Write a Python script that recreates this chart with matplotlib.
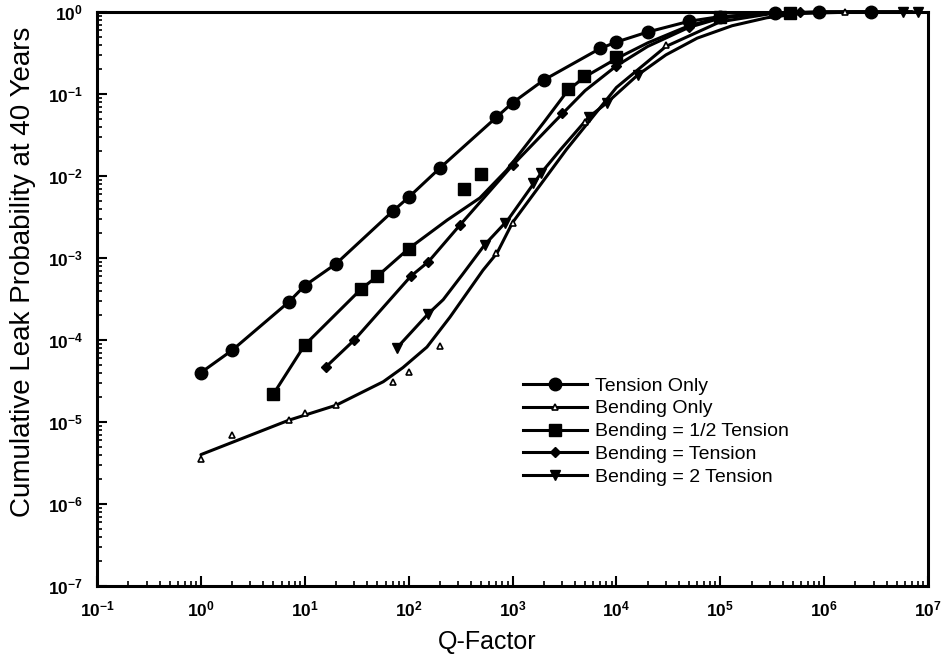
import matplotlib
matplotlib.use('Agg')
import matplotlib.pyplot as plt
from matplotlib.lines import Line2D
from matplotlib.ticker import LogLocator, NullFormatter

plt.rcParams['font.family'] = 'Liberation Sans'
plt.rcParams['mathtext.fontset'] = 'custom'
plt.rcParams['mathtext.rm'] = 'Liberation Sans'
plt.rcParams['mathtext.bf'] = 'Liberation Sans:bold'

# --- Tension Only (filled circles) ---
tension_x = [1, 2, 7, 10, 20, 70, 100, 200, 700, 1000, 2000, 7000, 1e4, 2e4, 5e4, 1e5, 3.4e5, 9e5, 2.8e6]
tension_y = [4e-5, 7.5e-5, 2.9e-4, 4.6e-4, 8.5e-4, 3.7e-3, 5.5e-3, 1.25e-2, 5.2e-2, 7.8e-2, 0.148,
             0.36, 0.43, 0.57, 0.77, 0.88, 0.97, 0.995, 1.0]

# --- Bending Only (open triangles) ---
bend_x = [1, 2, 7, 10, 20, 70, 100, 200, 700, 1000, 5000, 3e4, 1.6e6]
bend_y = [3.5e-6, 7e-6, 1.05e-5, 1.3e-5, 1.6e-5, 3.1e-5, 4.1e-5, 8.5e-5, 1.15e-3, 2.7e-3, 4.5e-2, 0.4, 1.0]
bend_curve_x = [1, 7, 20, 57, 88, 150, 250, 520, 710, 1000, 3300, 1e4, 3e4, 1e5, 3e5, 1e6, 7e6]
bend_curve_y = [4e-6, 1.05e-5, 1.6e-5, 3.1e-5, 4.6e-5, 8.2e-5, 1.9e-4, 7.1e-4, 1.15e-3,
                2.7e-3, 2.1e-2, 0.12, 0.38, 0.76, 0.95, 0.995, 1.0]

# --- Bending = 1/2 Tension (filled squares) ---
half_x = [5, 10, 35, 50, 100, 340, 500, 3400, 4900, 1e4, 1e5, 4.7e5]
half_y = [2.2e-5, 8.7e-5, 4.2e-4, 6e-4, 1.3e-3, 7e-3, 1.07e-2, 0.114, 0.165, 0.28, 0.86, 0.98]
half_curve_x = [5, 10, 35, 50, 100, 235, 485, 880, 2000, 3400, 4900, 1e4, 2e4, 5e4, 1e5, 3e5, 1e6, 7e6]
half_curve_y = [2.2e-5, 8.7e-5, 4.2e-4, 6e-4, 1.3e-3, 2.9e-3, 5.4e-3, 1.18e-2, 4.5e-2, 0.11, 0.16,
                0.27, 0.42, 0.68, 0.86, 0.97, 1.0, 1.0]

# --- Bending = Tension (diamonds) ---
equal_x = [16, 30, 105, 155, 310, 1000, 3000, 1e4, 5e4, 5.9e5]
equal_y = [4.7e-5, 1e-4, 6e-4, 9e-4, 2.5e-3, 1.35e-2, 5.8e-2, 0.22, 0.65, 0.99]
equal_curve_x = [16, 30, 105, 155, 310, 1000, 2500, 5000, 1e4, 2e4, 5e4, 1e5, 3e5, 1e6, 7e6]
equal_curve_y = [4.7e-5, 1e-4, 6e-4, 9e-4, 2.5e-3, 1.35e-2, 4.5e-2, 0.11, 0.22, 0.38, 0.65, 0.84,
                 0.97, 1.0, 1.0]

# --- Bending = 2 Tension (down triangles) ---
double_x = [77, 155, 540, 850, 1570, 1900, 5400, 8100, 1.6e4, 5.7e6, 8e6]
double_y = [8e-5, 2.1e-4, 1.45e-3, 2.7e-3, 8.2e-3, 1.1e-2, 5.2e-2, 7.8e-2, 0.17, 1.0, 1.0]
double_curve_x = [77, 155, 215, 330, 540, 900, 1900, 2900, 5400, 8100, 1.6e4, 3e4, 6e4, 1.3e5,
                  2.8e5, 6e5, 2e6, 8e6]
double_curve_y = [8e-5, 2.1e-4, 3.1e-4, 6.3e-4, 1.45e-3, 2.9e-3, 1.1e-2, 2.1e-2, 5.2e-2, 7.8e-2,
                  0.17, 0.3, 0.48, 0.68, 0.85, 0.96, 1.0, 1.0]

labels = ['Tension Only', 'Bending Only', 'Bending = 1/2 Tension',
          'Bending = Tension', 'Bending = 2 Tension']

fig = plt.figure(figsize=(9.44, 6.57), dpi=100)
ax = fig.add_axes([97 / 944, 1 - 586 / 657, (928 - 97) / 944, (586 - 12) / 657])
ax.set_xscale('log')
ax.set_yscale('log')
ax.set_xlim(1e-1, 1e7)
ax.set_ylim(1e-7, 1e0)

lw = 2.2
series = [
    (tension_x, tension_y, tension_x, tension_y, dict(marker='o', ms=9, mfc='k')),
    (bend_curve_x, bend_curve_y, bend_x, bend_y, dict(marker='^', ms=5, mfc='white', mew=1.2)),
    (half_curve_x, half_curve_y, half_x, half_y, dict(marker='s', ms=8, mfc='k')),
    (equal_curve_x, equal_curve_y, equal_x, equal_y, dict(marker='D', ms=5.5, mfc='k')),
    (double_curve_x, double_curve_y, double_x, double_y, dict(marker='v', ms=7.5, mfc='k')),
]

handles = []
for (cx, cy, mx, my, mk), lab in zip(series, labels):
    ax.plot(cx, cy, '-', color='k', lw=lw, solid_capstyle='round', solid_joinstyle='round',
            clip_on=False, zorder=3)
    ax.plot(mx, my, linestyle='none', color='k', mec='k', clip_on=False, zorder=4, **mk)
    handles.append(Line2D([], [], color='k', lw=lw, mec='k', **mk))

for s in ax.spines.values():
    s.set_linewidth(2.2)

ax.set_xticks([10.0 ** k for k in range(-1, 8)])
ax.set_xticklabels([r'$\mathbf{10^{%d}}$' % k for k in range(-1, 8)])
ax.set_yticks([10.0 ** k for k in range(-7, 1)])
ax.set_yticklabels([r'$\mathbf{10^{%d}}$' % k for k in range(-7, 1)])
ax.xaxis.set_minor_locator(LogLocator(base=10, subs=range(2, 10), numticks=20))
ax.yaxis.set_minor_locator(LogLocator(base=10, subs=range(2, 10), numticks=20))
ax.xaxis.set_minor_formatter(NullFormatter())
ax.yaxis.set_minor_formatter(NullFormatter())
ax.tick_params(which='major', direction='in', length=7, width=1.5, labelsize=12.5, pad=10)
ax.tick_params(which='minor', direction='in', length=3.5, width=1.2)

ax.set_xlabel('Q-Factor', fontsize=18)
ax.set_ylabel('Cumulative Leak Probability at 40 Years', fontsize=20)
ax.xaxis.set_label_coords(0.469, -0.076)
ax.yaxis.set_label_coords(-0.074, 0.547)

leg = ax.legend(handles, labels, loc='upper left', bbox_to_anchor=(523 / 944, 1 - 377 / 657),
                bbox_transform=fig.transFigure, frameon=False, fontsize=14,
                handlelength=3.3, handletextpad=0.4, labelspacing=0.27, borderpad=0,
                borderaxespad=0)

fig.savefig('out.png', dpi=100, facecolor='white')
